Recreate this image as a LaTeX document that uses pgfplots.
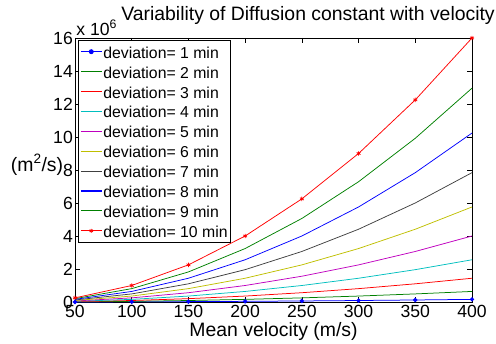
\documentclass[border=0pt]{standalone}
\usepackage{fontspec}
\setmainfont{Liberation Sans}
\usepackage{pgfplots}
\usepackage{pgfplotstable}
\pgfplotsset{compat=1.18}
\definecolor{mblue}{rgb}{0,0,1}
\definecolor{mgreen}{rgb}{0,0.5,0}
\definecolor{mred}{rgb}{1,0,0}
\definecolor{mcyan}{rgb}{0,0.75,0.75}
\definecolor{mmag}{rgb}{0.75,0,0.75}
\definecolor{myel}{rgb}{0.75,0.75,0}
\definecolor{mgray}{rgb}{0.25,0.25,0.25}
\pgfplotsset{
  legline/.style={legend image code/.code={\draw[draw=#1, line width=1.1pt] (0pt,0pt) -- (21pt,0pt);}},
  legmarkline/.style 2 args={legend image code/.code={\draw[draw=#1, line width=1.1pt] (0pt,0pt) -- (21pt,0pt); \draw[#1, line width=0.9pt] plot[mark=#2, mark size=2pt, mark options={draw=#1, fill=#1}] coordinates {(10.5pt,0pt)};}},
}
\pgfplotstableread{
v d1 d2 d3 d4 d5 d6 d7 d8 d9 d10
50 2500 10000 22500 40000 62500 90000 122500 160000 202500 250000
100 10000 40000 90000 160000 250000 360000 490000 640000 810000 1000000
150 22500 90000 202500 360000 562500 810000 1102500 1440000 1822500 2250000
200 40000 160000 360000 640000 1000000 1440000 1960000 2560000 3240000 4000000
250 62500 250000 562500 1000000 1562500 2250000 3062500 4000000 5062500 6250000
300 90000 360000 810000 1440000 2250000 3240000 4410000 5760000 7290000 9000000
350 122500 490000 1102500 1960000 3062500 4410000 6002500 7840000 9922500 12250000
400 160000 640000 1440000 2560000 4000000 5760000 7840000 10240000 12960000 16000000
}\datatable
\begin{document}
\begin{tikzpicture}
\begin{axis}[
  scale only axis,
  width=397pt, height=264pt,
  xmin=50, xmax=400, ymin=0, ymax=16000000,
  xtick={50,100,...,400},
  ytick={0,2000000,4000000,6000000,8000000,10000000,12000000,14000000,16000000},
  yticklabels={0,2,4,6,8,10,12,14,16},
  scaled y ticks=false,
  /pgf/number format/assume math mode=true,
  tick align=inside,
  tick pos=both,
  major tick length=5pt,
  axis line style={line width=0.9pt},
  every tick/.style={black, line width=0.7pt},
  tick label style={font=\fontsize{17.6}{20}\selectfont},
  xticklabel style={inner sep=0pt, yshift=-3.5pt},
  yticklabel style={inner sep=0pt, xshift=-2pt},
  title={Variability of Diffusion constant with velocity},
  title style={at={(axis description cs:0.587,1.043)}, anchor=base, inner sep=0pt, font=\fontsize{19.4}{22}\selectfont},
  xlabel={Mean velocity (m/s)},
  xlabel style={at={(axis description cs:0.5,-0.131)}, anchor=base, inner sep=0pt, font=\fontsize{19.4}{22}\selectfont},
  ylabel={(m\textsuperscript{2}/s)},
  ylabel style={rotate=-90, at={(axis description cs:-0.0957,0.52)}, anchor=center, inner sep=0pt, font=\fontsize{19.4}{22}\selectfont},
  legend cell align=left,
  legend style={at={(axis description cs:0.0076,0.9924)}, anchor=north west,
    font=\fontsize{15.8}{18}\selectfont, inner xsep=2pt, inner ysep=2pt, row sep=0.9pt,
    nodes={inner sep=1pt, text height=15pt, text depth=2pt}},
  every axis plot/.append style={line width=0.75pt},
  clip=false,
]
\addplot[mblue, mark=*, mark size=1.8pt, legmarkline={mblue}{*}] table[x=v,y=d1] {\datatable};
\addlegendentry{deviation= 1 min}
\addplot[mgreen, legline=mgreen] table[x=v,y=d2] {\datatable};
\addlegendentry{deviation= 2 min}
\addplot[mred, legline=mred] table[x=v,y=d3] {\datatable};
\addlegendentry{deviation= 3 min}
\addplot[mcyan, legline=mcyan] table[x=v,y=d4] {\datatable};
\addlegendentry{deviation= 4 min}
\addplot[mmag, legline=mmag] table[x=v,y=d5] {\datatable};
\addlegendentry{deviation= 5 min}
\addplot[myel, legline=myel] table[x=v,y=d6] {\datatable};
\addlegendentry{deviation= 6 min}
\addplot[mgray, legline=mgray] table[x=v,y=d7] {\datatable};
\addlegendentry{deviation= 7 min}
\addplot[mblue, legline=mblue] table[x=v,y=d8] {\datatable};
\addlegendentry{deviation= 8 min}
\addplot[mgreen, legline=mgreen] table[x=v,y=d9] {\datatable};
\addlegendentry{deviation= 9 min}
\addplot[mred, mark=asterisk, mark size=2.2pt, legmarkline={mred}{asterisk}] table[x=v,y=d10] {\datatable};
\addlegendentry{deviation= 10 min}
\node[anchor=base west, inner sep=0pt, font=\fontsize{17.6}{20}\selectfont] at (axis description cs:0.003,1.011) {x 10\textsuperscript{6}};
\end{axis}
\pgfresetboundingbox
\path ([shift={(-75pt,-42pt)}]current axis.south west) rectangle ([shift={(24pt,38pt)}]current axis.north east);
\end{tikzpicture}
\end{document}
